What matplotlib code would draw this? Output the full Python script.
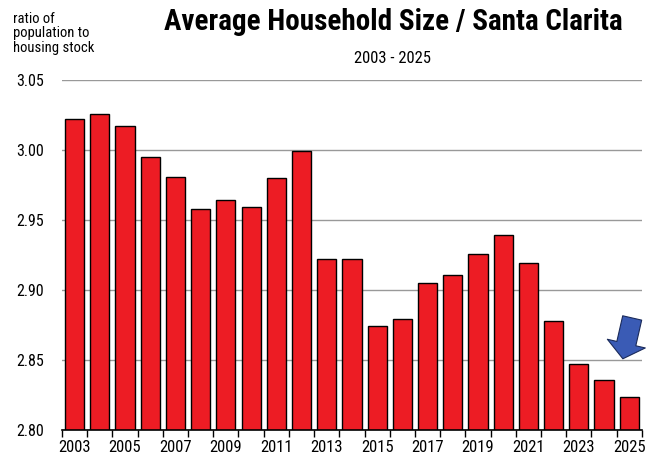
import matplotlib.pyplot as plt
import matplotlib
import numpy as np

matplotlib.rcParams['font.family'] = ['Liberation Sans Narrow', 'Roboto Condensed', 'Liberation Sans', 'DejaVu Sans']

years = list(range(2003, 2026))
household_size = [3.022, 3.026, 3.017, 2.995, 2.981, 2.958, 2.964, 2.959, 2.980, 2.999,
                  2.922, 2.922, 2.874, 2.879, 2.905, 2.911, 2.926, 2.939, 2.919, 2.878,
                  2.847, 2.836, 2.824]
yticks = [2.80, 2.85, 2.90, 2.95, 3.00, 3.05]

fig = plt.figure(figsize=(6.56, 4.62), dpi=100)
ax = fig.add_axes([0.0945, 0.069, 0.884, 0.758])

x = np.arange(len(years))
ax.bar(x, household_size, width=0.76, color='#ed1c24', edgecolor='black', linewidth=1.0, zorder=3)

ax.set_ylim(2.80, 3.05)
ax.set_xlim(-0.5, len(years) - 0.5)
ax.set_yticks(yticks)
ax.set_yticklabels([f'{v:.2f}' for v in yticks], fontsize=11.5)
ax.yaxis.grid(True, color='#999999', linewidth=1.0, zorder=0)
ax.tick_params(axis='y', length=0, pad=13)

# category boundary ticks on x axis, year labels every other bar
ax.set_xticks(np.arange(-0.5, len(years), 1.0))
ax.set_xticklabels([])
ax.set_xticks(x[::2], minor=True)
ax.set_xticklabels([str(y) for y in years[::2]], minor=True, fontsize=12)
ax.tick_params(axis='x', which='major', direction='out', length=5, width=1, color='black')
ax.tick_params(axis='x', which='minor', length=0, pad=7)

for s in ['left', 'right', 'top']:
    ax.spines[s].set_visible(False)
ax.spines['bottom'].set_color('black')
ax.spines['bottom'].set_linewidth(1.2)
ax.spines['bottom'].set_zorder(4)

title = fig.text(0.599, 0.952, 'Average Household Size / Santa Clarita', ha='center', va='center',
                 fontsize=19, fontweight='bold')
# scale the title to the width seen in the reference
fig.canvas.draw()
w = title.get_window_extent().width
title.set_fontsize(19 * 458 / w)
fig.text(0.598, 0.873, '2003 - 2025', ha='center', va='center', fontsize=12)
fig.text(0.02, 0.975, 'ratio of\npopulation to\nhousing stock', ha='left', va='top',
         fontsize=10.5, linespacing=1.05)

# arrow pointing at the last bar
last = len(years) - 1
ax.annotate('', xy=(last - 0.28, household_size[-1] + 0.025),
            xytext=(last + 0.14, household_size[-1] + 0.058),
            arrowprops=dict(arrowstyle='simple,head_length=0.8,head_width=2.0,tail_width=1.0',
                            fc='#3a5bb5', ec='#1a2a5a', lw=0.8, mutation_scale=14),
            zorder=5)

plt.savefig('out.png', dpi=100)
plt.close()
